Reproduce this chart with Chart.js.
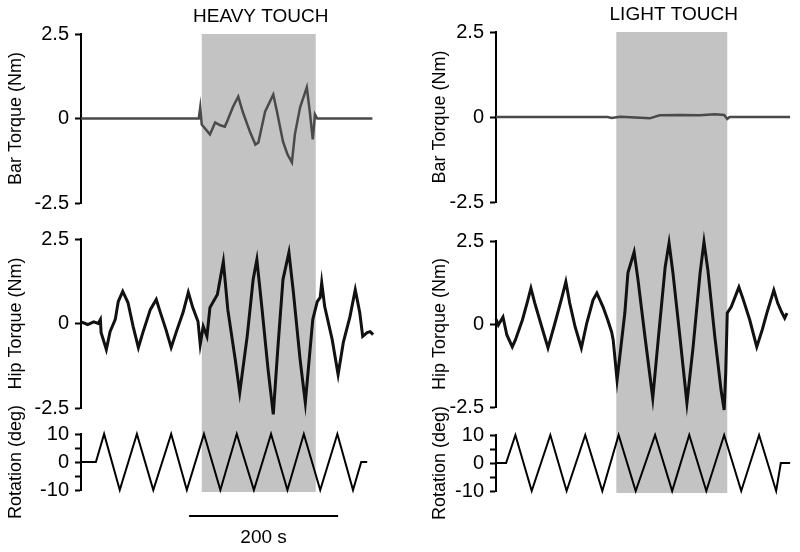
<!DOCTYPE html>
<html>
<head>
<meta charset="utf-8">
<script src="https://cdn.jsdelivr.net/npm/chart.js@4/dist/chart.umd.min.js"></script>
<style>
  html, body { margin: 0; padding: 0; background: #fff; }
  #wrap { position: relative; width: 800px; height: 552px; }
  canvas { position: absolute; top: 0; }
</style>
</head>
<body>
<div id="wrap">
  <canvas id="heavy" width="400" height="552" style="left:0"></canvas>
  <canvas id="light" width="400" height="552" style="left:400px"></canvas>
</div>
<script>
// time in seconds from the start of each trial
const heavyBarT = [0, 158, 160, 162, 173, 180, 187, 193, 196, 204, 211, 217, 227, 234, 238, 247, 258, 263, 271, 277, 283, 287, 294, 303, 307, 311, 314, 317, 391];
const heavyBarV = [0, 0, 0.33, -0.18, -0.47, -0.12, -0.2, -0.24, -0.09, 0.35, 0.65, 0.2, -0.41, -0.77, -0.71, 0.2, 0.71, 0.2, -0.68, -1.06, -1.3, -0.47, 0.33, 0.92, 0.2, -0.62, 0.12, 0, 0];

const heavyHipT = [0, 9, 17, 23, 26, 27, 34, 39, 46, 50, 56, 63, 70, 77, 83, 93, 101, 106, 114, 121, 128, 137, 144, 150, 157, 160, 164, 169, 173, 183, 191, 197, 207, 213, 223, 231, 236, 243, 251, 258, 264, 271, 279, 285, 294, 301, 307, 311, 317, 321, 323, 327, 337, 345, 352, 361, 368, 374, 378, 384, 388, 392];
const heavyHipV = [0.05, -0.03, 0.05, 0.0, 0.12, -0.27, -0.77, -0.24, 0.12, 0.65, 0.95, 0.62, -0.09, -0.71, -0.27, 0.41, 0.71, 0.36, -0.18, -0.71, -0.24, 0.33, 0.92, 0.47, 0.06, -0.62, -0.09, -0.38, 0.47, 0.86, 1.83, 0.41, -1.07, -2.04, -0.38, 1.3, 1.89, 0.41, -1.36, -2.69, -0.77, 1.3, 2.1, 0.92, -1.07, -2.34, -0.86, 0.12, 0.65, 0.77, 1.21, 0.5, -0.47, -1.51, -0.56, 0.21, 1.0, 0.33, -0.38, -0.27, -0.24, -0.33];

const heavyRotT = [0, 20, 31, 52, 75, 97, 121, 142, 165, 187, 209, 232, 255, 277, 299, 321, 344, 365, 376, 384];
const heavyRotV = [0, 0, 10, -10, 10, -10, 10, -10, 10, -10, 10, -10, 10, -10, 10, -10, 10, -10, 0, 0];

const lightBarT = [0, 144, 149, 160, 186, 198, 211, 237, 263, 282, 294, 298, 301, 379];
const lightBarV = [0, 0, -0.03, 0.01, -0.02, -0.04, 0.05, 0.06, 0.05, 0.08, 0.06, -0.06, 0, 0];

const lightHipT = [0, 3, 9, 14, 21, 25, 34, 40, 45, 50, 59, 67, 76, 85, 90, 95, 102, 110, 117, 125, 130, 138, 144, 149, 151, 156, 166, 170, 178, 183, 192, 202, 209, 218, 223, 228, 237, 246, 254, 263, 268, 273, 282, 290, 294, 296, 298, 303, 308, 313, 318, 327, 336, 343, 349, 358, 363, 368, 372, 375];
const lightHipV = [0.15, -0.03, 0.21, -0.33, -0.69, -0.48, 0.12, 0.63, 1.08, 0.63, -0.09, -0.72, 0.03, 0.81, 1.27, 0.63, -0.09, -0.72, 0.03, 0.72, 0.93, 0.51, 0.12, -0.24, -0.48, -1.69, 0.33, 1.54, 2.17, 1.33, -0.39, -2.23, -0.48, 1.72, 2.44, 1.54, -0.39, -2.38, -0.69, 1.54, 2.47, 1.63, -0.39, -1.99, -2.59, -1.48, 0.33, 0.51, 0.81, 1.11, 0.78, 0.12, -0.69, -0.18, 0.33, 1.02, 0.63, 0.36, 0.18, 0.33];

const lightRotT = [0, 13, 25, 46, 70, 91, 115, 137, 158, 180, 205, 227, 249, 271, 294, 316, 339, 361, 367, 379];
const lightRotV = [0, 0, 10, -10, 10, -10, 10, -10, 10, -10, 10, -10, 10, -10, 10, -10, 10, -10, 0, 0];

const heavyBand = [162, 315];
const lightBand = [155, 298];
const scaleBar = [145, 345];
const torqueTicks = [-2.5, 0, 2.5];
const rotTicks = [-10, -5, 0, 5, 10];

const family = "'Liberation Sans', Arial, Helvetica, sans-serif";

const pts = (t, v) => t.map((x, i) => ({ x, y: v[i] }));

function valueAxis(title, ticks, min, max, weight, titlePad, width, label) {
    return {
        type: 'linear', position: 'left', stack: 'col', stackWeight: weight,
        min, max,
        afterBuildTicks: s => { s.ticks = ticks.map(v => ({ value: v })); },
        afterFit: s => { s.width = width; },
        border: { display: true, color: '#000', width: 2 },
        grid: { drawOnChartArea: false, drawTicks: true, tickLength: 6, tickWidth: 2, tickColor: '#000' },
        ticks: { color: '#000', autoSkip: false, padding: 6, font: { family, size: 20 }, callback: label },
        title: { display: true, text: title, color: '#000', font: { family, size: 18 }, padding: { top: titlePad, bottom: 0 } }
    };
}

function gapAxis(weight) {
    return {
        type: 'linear', position: 'left', stack: 'col', stackWeight: weight,
        min: 0, max: 1,
        grid: { display: false }, border: { display: false }, ticks: { display: false },
        afterFit: s => { s.width = 0; }
    };
}

const torqueLabel = v => (v === 0 ? '0' : v.toFixed(1));
const rotLabel = v => (v % 10 === 0 ? String(v) : '');

// grey shading for the touch period, across all three panels
const touchBand = {
    id: 'touchBand',
    beforeDatasetsDraw(chart, args, opts) {
        const { ctx, scales } = chart;
        const x0 = scales.x.getPixelForValue(opts.from);
        const x1 = scales.x.getPixelForValue(opts.to);
        const top = scales.yBar.getPixelForValue(scales.yBar.max);
        const bottom = scales.yRot.getPixelForValue(scales.yRot.min) + 2;
        ctx.save();
        ctx.fillStyle = '#c3c3c3';
        ctx.fillRect(x0, top, x1 - x0, bottom - top);
        ctx.fillStyle = '#000';
        ctx.font = `19px ${family}`;
        ctx.textAlign = 'center';
        ctx.textBaseline = 'middle';
        ctx.fillText(opts.label, (x0 + x1) / 2 + 2, top - 17);
        ctx.restore();
    }
};

const timeBar = {
    id: 'timeBar',
    afterDraw(chart, args, opts) {
        if (!opts.show) return;
        const { ctx, scales, chartArea } = chart;
        const x0 = scales.x.getPixelForValue(scaleBar[0]);
        const x1 = scales.x.getPixelForValue(scaleBar[1]);
        const y = chartArea.bottom + 26;
        ctx.save();
        ctx.strokeStyle = '#000';
        ctx.lineWidth = 2;
        ctx.beginPath();
        ctx.moveTo(x0, y);
        ctx.lineTo(x1, y);
        ctx.stroke();
        ctx.fillStyle = '#000';
        ctx.font = `19px ${family}`;
        ctx.textAlign = 'center';
        ctx.textBaseline = 'middle';
        ctx.fillText('200 s', (x0 + x1) / 2, y + 22);
        ctx.restore();
    }
};

function makePanel(id, cfg) {
    const line = (data, axis, color, width) => ({
        data, yAxisID: axis, borderColor: color, borderWidth: width,
        pointRadius: 0, tension: 0, fill: false, clip: false
    });
    return new Chart(document.getElementById(id), {
        type: 'line',
        data: {
            datasets: [
                line(pts(cfg.barT, cfg.barV), 'yBar', '#4a4a4a', 2.5),
                line(pts(cfg.hipT, cfg.hipV), 'yHip', '#111', 3),
                line(pts(cfg.rotT, cfg.rotV), 'yRot', '#000', 2)
            ]
        },
        options: {
            responsive: false,
            animation: false,
            layout: { padding: cfg.padding },
            plugins: {
                legend: { display: false },
                tooltip: { enabled: false },
                touchBand: { from: cfg.band[0], to: cfg.band[1], label: cfg.label },
                timeBar: { show: cfg.timeBar }
            },
            scales: {
                x: { type: 'linear', min: 0, max: cfg.xMax, display: false },
                // stacked left axes: last defined sits on top
                yRot: valueAxis('Rotation (deg)', rotTicks, -10, 10, cfg.weights[4], cfg.titlePad, cfg.axisWidth, rotLabel),
                gap2: gapAxis(cfg.weights[3]),
                yHip: valueAxis('Hip Torque (Nm)', torqueTicks, -2.5, 2.5, cfg.weights[2], cfg.titlePad, cfg.axisWidth, torqueLabel),
                gap1: gapAxis(cfg.weights[1]),
                yBar: valueAxis('Bar Torque (Nm)', torqueTicks, -2.5, 2.5, cfg.weights[0], cfg.titlePad, cfg.axisWidth, torqueLabel)
            }
        },
        plugins: [touchBand, timeBar]
    });
}

makePanel('heavy', {
    barT: heavyBarT, barV: heavyBarV, hipT: heavyHipT, hipV: heavyHipV, rotT: heavyRotT, rotV: heavyRotV,
    band: heavyBand, label: 'HEAVY TOUCH', timeBar: true, xMax: 394.5,
    padding: { top: 34, bottom: 62, left: 0, right: 25 },
    weights: [169, 36, 169, 26, 56], titlePad: 5, axisWidth: 81
});

makePanel('light', {
    barT: lightBarT, barV: lightBarV, hipT: lightHipT, hipV: lightHipV, rotT: lightRotT, rotV: lightRotV,
    band: lightBand, label: 'LIGHT TOUCH', timeBar: false, xMax: 384,
    padding: { top: 32, bottom: 61, left: 0, right: 6 },
    weights: [170, 39, 166, 28, 56], titlePad: 29, axisWidth: 96
});
</script>
</body>
</html>
